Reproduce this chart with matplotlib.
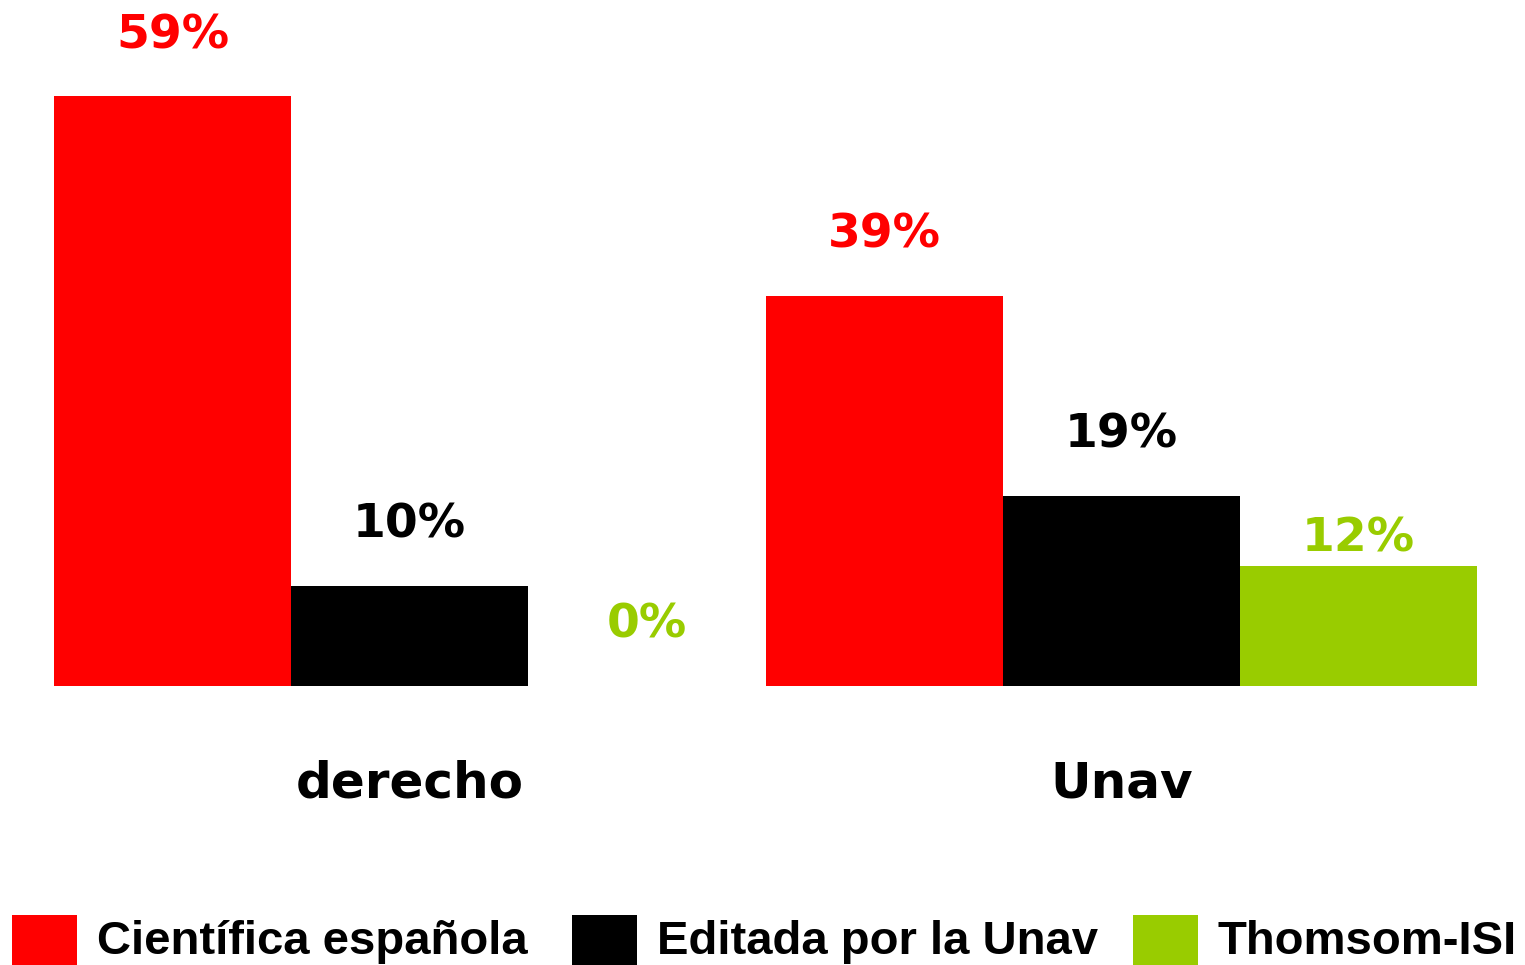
import matplotlib
matplotlib.use("Agg")
import matplotlib.pyplot as plt
from matplotlib.patches import Rectangle
import numpy as np

categories = ["derecho", "Unav"]
series_names = ["Científica española", "Editada por la Unav", "Thomsom-ISI"]
series_colors = ["#ff0000", "#000000", "#99cc00"]
values = {
    "Científica española": [59, 39],
    "Editada por la Unav": [10, 19],
    "Thomsom-ISI": [0, 12],
}
# label offsets (pixels above bar top), as placed in the original
label_offsets = {
    "Científica española": [48, 48],
    "Editada por la Unav": [48, 48],
    "Thomsom-ISI": [48, 15],
}

W, H = 1525, 965
fig = plt.figure(figsize=(W / 100, H / 100), dpi=100)
ax = fig.add_axes([54 / W, (H - 686) / H, (1477 - 54) / W, (686 - 96) / H])
ax.set_xlim(-0.5, 1.5)
ax.set_ylim(0, 59)
ax.axis("off")

bw = 1 / 3
x = np.arange(len(categories))
for i, name in enumerate(series_names):
    xs = x + (i - 1) * bw
    vals = values[name]
    ax.bar(xs, vals, width=bw, color=series_colors[i], linewidth=0)
    for xi, v, off in zip(xs, vals, label_offsets[name]):
        ax.annotate(f"{v}%", (xi, v), xytext=(0, off), textcoords="offset pixels",
                    ha="center", va="baseline", fontsize=34, fontweight="bold",
                    color=series_colors[i], family="DejaVu Sans")

for xi, c in zip(x, categories):
    ax.annotate(c, (xi, 0), xytext=(0, -111), textcoords="offset pixels",
                ha="center", va="baseline", fontsize=36, fontweight="bold",
                color="black", family="DejaVu Sans")

# legend
leg_x = [12, 572, 1133]
for i, name in enumerate(series_names):
    fig.patches.append(Rectangle((leg_x[i] / W, 0), 65 / W, (965 - 915) / H,
                                 transform=fig.transFigure, color=series_colors[i],
                                 linewidth=0))
    fig.text((leg_x[i] + 85) / W, (965 - 954) / H, name, ha="left", va="baseline",
             fontsize=34, fontweight="bold", family="Liberation Sans", color="black")

fig.savefig("out.png", dpi=100, facecolor="white")
